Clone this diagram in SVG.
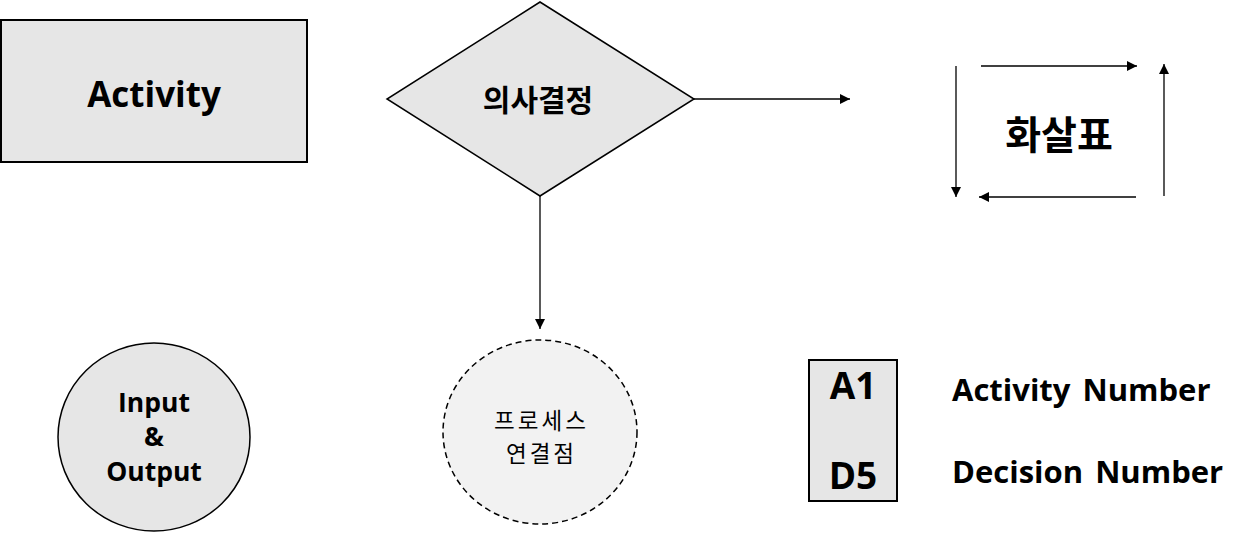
<svg xmlns="http://www.w3.org/2000/svg" width="1245" height="535" viewBox="0 0 1245 535">
<style>
.t{font-family:"Open Sans","Noto Sans CJK KR",sans-serif;fill:#000}
.k{font-family:"Noto Sans CJK KR",sans-serif;fill:#000}
.b{font-weight:bold}
.ln{stroke:#000;stroke-width:1.3;fill:none}
</style>
<defs>
<marker id="ah" viewBox="0 0 10 10" refX="10" refY="5" markerWidth="10" markerHeight="10" markerUnits="userSpaceOnUse" orient="auto">
<path d="M0,0 L10,5 L0,10 z" fill="#000"/>
</marker>
</defs>
<g id="activity">
<rect x="1" y="20" width="306" height="142" fill="#e6e6e6" stroke="#000" stroke-width="2"/>
<text class="t b" x="154" y="107" font-size="35" text-anchor="middle">Activity</text>
</g>
<g id="decision">
<polygon points="540,2 694,99 540,196 387,99" fill="#e6e6e6" stroke="#000" stroke-width="1.5"/>
<text class="k b" x="538" y="111" font-size="30" text-anchor="middle">의사결정</text>
</g>
<g id="arrow-legend">
<text class="k b" x="1059" y="149" font-size="39" text-anchor="middle">화살표</text>
</g>
<g id="io">
<ellipse cx="154" cy="437" rx="96" ry="94" fill="#e6e6e6" stroke="#000" stroke-width="1.5"/>
<text class="t b" x="154" y="412" font-size="26.5" text-anchor="middle">Input</text>
<text class="t b" x="154" y="446" font-size="26.5" text-anchor="middle">&amp;</text>
<text class="t b" x="154" y="481" font-size="26.5" text-anchor="middle">Output</text>
</g>
<g id="connector-point">
<ellipse cx="540" cy="432" rx="97" ry="92" fill="#f2f2f2" stroke="#000" stroke-width="1.5" stroke-dasharray="6,4"/>
<text class="k" x="541.5" y="429" font-size="22.5" letter-spacing="3" text-anchor="middle">프로세스</text>
<text class="k" x="541.5" y="462" font-size="22.5" letter-spacing="3" text-anchor="middle">연결점</text>
</g>
<g id="number-box">
<rect x="809" y="360" width="88" height="141" fill="#e6e6e6" stroke="#000" stroke-width="2"/>
<text class="t b" x="853" y="399" font-size="37" text-anchor="middle">A1</text>
<text class="t b" x="853" y="489" font-size="37" text-anchor="middle">D5</text>
</g>
<g id="labels">
<text class="t b" x="952" y="401" font-size="31" word-spacing="4">Activity Number</text>
<text class="t b" x="952" y="483" font-size="31" word-spacing="4">Decision Number</text>
</g>
<g id="connectors">
<line class="ln" x1="694" y1="99" x2="850" y2="99" marker-end="url(#ah)"/>
<line class="ln" x1="540" y1="196" x2="540" y2="329" marker-end="url(#ah)"/>
<line class="ln" x1="956" y1="66" x2="956" y2="197" marker-end="url(#ah)"/>
<line class="ln" x1="981" y1="66" x2="1137" y2="66" marker-end="url(#ah)"/>
<line class="ln" x1="1164" y1="196" x2="1164" y2="64" marker-end="url(#ah)"/>
<line class="ln" x1="1136" y1="197" x2="979" y2="197" marker-end="url(#ah)"/>
</g>
</svg>
